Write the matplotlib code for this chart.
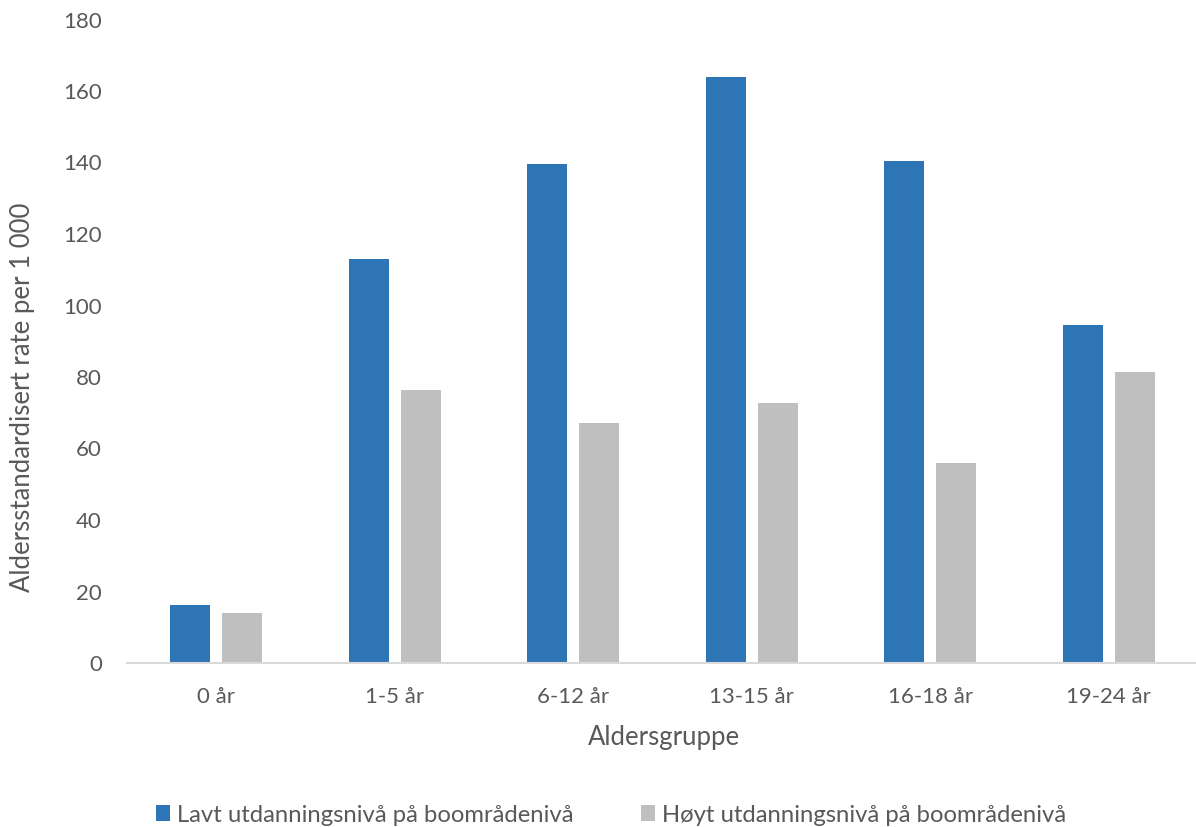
import matplotlib
matplotlib.use("Agg")
import matplotlib.pyplot as plt
from matplotlib.patches import Patch
import numpy as np

categories = ["0 år", "1-5 år", "6-12 år", "13-15 år", "16-18 år", "19-24 år"]
lavt = [16.2, 112.9, 139.5, 163.8, 140.3, 94.5]
hoyt = [14.0, 76.3, 67.1, 72.7, 55.9, 81.3]
series_names = ["Lavt utdanningsnivå på boområdenivå",
                "Høyt utdanningsnivå på boområdenivå"]
yticks = [0, 20, 40, 60, 80, 100, 120, 140, 160, 180]

BLUE = "#2E75B6"
GREY = "#BFBFBF"
TEXT = "#595959"

plt.rcParams["font.family"] = ["Lato", "DejaVu Sans"]

fig = plt.figure(figsize=(11.96, 8.27), dpi=100)
ax = fig.add_axes([127 / 1196, 164 / 827, (1198 - 127) / 1196, (663 - 19.5) / 827])

x = np.arange(len(categories))
w = 0.224
off = 0.1456
ax.bar(x - off, lavt, width=w, color=BLUE, label=series_names[0])
ax.bar(x + off, hoyt, width=w, color=GREY, label=series_names[1])

ax.set_xlim(-0.5, len(categories) - 0.5)
ax.set_ylim(0, 180)
ax.set_yticks(yticks)
ax.set_xticks(x)
ax.set_xticklabels(categories)
ax.tick_params(axis="both", length=0, labelsize=16, labelcolor=TEXT)
ax.tick_params(axis="y", pad=18)
ax.tick_params(axis="x", pad=17)

for side in ["top", "right", "left"]:
    ax.spines[side].set_visible(False)
ax.spines["bottom"].set_color("#D9D9D9")
ax.spines["bottom"].set_linewidth(1.5)

fig.text(664 / 1196, 1 - 738 / 827, "Aldersgruppe",
         fontsize=18.5, color=TEXT, ha="center", va="center")
fig.text(23 / 1196, 1 - 397 / 827, "Aldersstandardisert rate per 1 000",
         rotation=90, fontsize=18.5, color=TEXT, ha="center", va="center")

handles = [Patch(facecolor=BLUE), Patch(facecolor=GREY)]
fig.legend(handles, series_names, loc="center", bbox_to_anchor=(611 / 1196, 1 - 815 / 827),
           ncol=2, frameon=False, fontsize=17.2, labelcolor=TEXT,
           handlelength=0.6, handleheight=0.6, handletextpad=0.3, columnspacing=2.8)

fig.savefig("out.png", dpi=100, facecolor="white")
